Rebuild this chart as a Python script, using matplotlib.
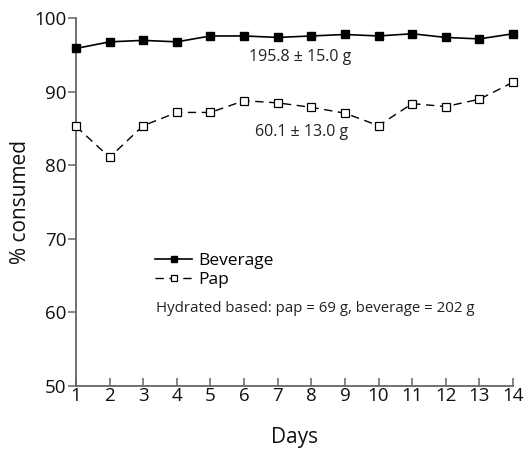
import matplotlib
matplotlib.use("Agg")
import matplotlib.pyplot as plt

plt.rcParams['font.family'] = ['Open Sans', 'DejaVu Sans']

# dati
days = list(range(1, 15))
beverage = [95.9, 96.8, 97.0, 96.8, 97.6, 97.6, 97.4, 97.6, 97.8, 97.6, 97.9, 97.4, 97.2, 97.9]
pap = [85.3, 81.1, 85.4, 87.2, 87.2, 88.8, 88.5, 87.9, 87.1, 85.4, 88.4, 88.0, 89.0, 91.3]
bev_note = "195.8 \u00b1 15.0 g"
pap_note = "60.1 \u00b1 13.0 g"
hydr_note = "Hydrated based: pap = 69 g, beverage = 202 g"

fig = plt.figure(figsize=(5.30, 4.51), dpi=100)
ax = fig.add_axes([0.1434, 0.1441, 0.8245, 0.8153])

spine_c = '#666666'
ax.plot(days, beverage, color='black', lw=1.2, marker='s', ms=5.2,
        mfc='black', mec='black', label='Beverage', clip_on=False, zorder=3)
ax.plot(days, pap, color='black', lw=1.0, dashes=(6, 4), marker='s', ms=5.2,
        mfc='white', mec='black', mew=0.9, label='Pap', clip_on=False, zorder=3)

ax.set_xlim(1, 14)
ax.set_ylim(50, 100)
ax.set_xticks(days)
ax.set_yticks([50, 60, 70, 80, 90, 100])

for s in ['top', 'right']:
    ax.spines[s].set_visible(False)
for s in ['left', 'bottom']:
    ax.spines[s].set_color(spine_c)
    ax.spines[s].set_linewidth(1.3)

ax.tick_params(axis='y', direction='out', length=6, width=1.1, color=spine_c,
               labelsize=13.5, pad=1, labelcolor='#111111')
ax.tick_params(axis='x', direction='in', length=6, width=1.1, color=spine_c,
               labelsize=13.5, pad=0.5, labelcolor='#111111')

ax.set_xlabel("Days", fontsize=15, labelpad=16, color='#111111')
ax.set_ylabel("% consumed", fontsize=15, labelpad=2, color='#111111')

ax.text(7.67, 94.7, bev_note, ha='center', va='center', fontsize=11.5, color='#222222')
ax.text(7.7, 84.5, pap_note, ha='center', va='center', fontsize=11.5, color='#222222')
ax.text(3.38, 60.6, hydr_note, ha='left', va='center', fontsize=10.8, color='#222222')

leg = ax.legend(loc='upper left', bbox_to_anchor=(0.162, 0.386), frameon=False,
                fontsize=12.5, handlelength=2.1, handletextpad=0.35,
                labelspacing=0.15, borderpad=0, markerscale=0.85)

fig.savefig("out.png", dpi=100)
plt.close(fig)
